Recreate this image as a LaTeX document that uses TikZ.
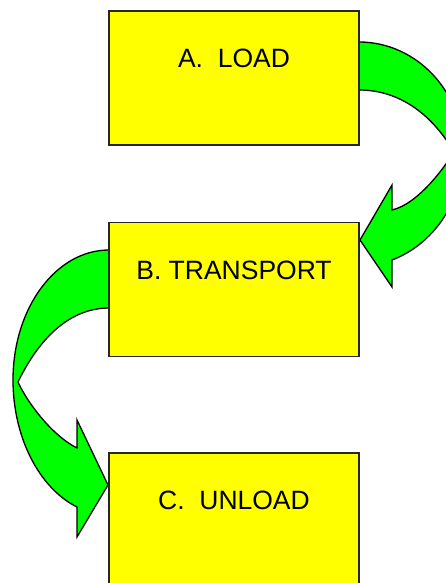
\documentclass[tikz,border=0pt]{standalone}
\usepackage{fontspec}
\setmainfont{Liberation Sans}
\usetikzlibrary{positioning}
\definecolor{stageyellow}{RGB}{255,255,0}
\definecolor{arrowgreen}{RGB}{0,255,0}
\tikzset{stage/.style={draw=black!85,line width=1.3pt,fill=stageyellow,minimum width=250pt,minimum height=134pt,inner sep=0pt},
stagetext/.style={font=\fontsize{26.5}{31}\selectfont,inner sep=0pt},
bendarrow/.style={draw=black,line width=1.3pt,fill=arrowgreen,line join=miter}}

\begin{document}
\begin{tikzpicture}[x=1pt,y=-1pt]
\useasboundingbox (0,0) rectangle (446,583);
\clip (0,0) rectangle (446,583);
% A -> B
\path[bendarrow] (359,42) .. controls (416,42) and (463,91) .. (463,152)
 .. controls (463,201) and (434,244) .. (392,260)
 -- (392,287) -- (360,240) -- (392,185) -- (392,210)
 .. controls (418,204) and (444,168) .. (454,152)
 .. controls (440,128) and (410,90) .. (359,90) -- cycle;
% B -> C
\path[bendarrow] (109,250) .. controls (56,250) and (13,308) .. (13,380)
 .. controls (13,437) and (39,488) .. (77,507)
 -- (77,537) -- (108,485) -- (77,420) -- (77,448)
 .. controls (53,436) and (28,404) .. (18,382)
 .. controls (31,355) and (60,308) .. (109,308) -- cycle;
\node[stage] (L) at (234,78) {};
\node[stage] (T) at (234,289.5) {};
\node[stage] (U) at (234,520) {};
\node[stagetext,below=38.5pt of L.north] (Ltext) {A.\ \ LOAD};
\node[stagetext,below=38.5pt of T.north] (Ttext) {B. TRANSPORT};
\node[stagetext,below=38.5pt of U.north] (Utext) {C.\ \ UNLOAD};
\end{tikzpicture}
\end{document}
